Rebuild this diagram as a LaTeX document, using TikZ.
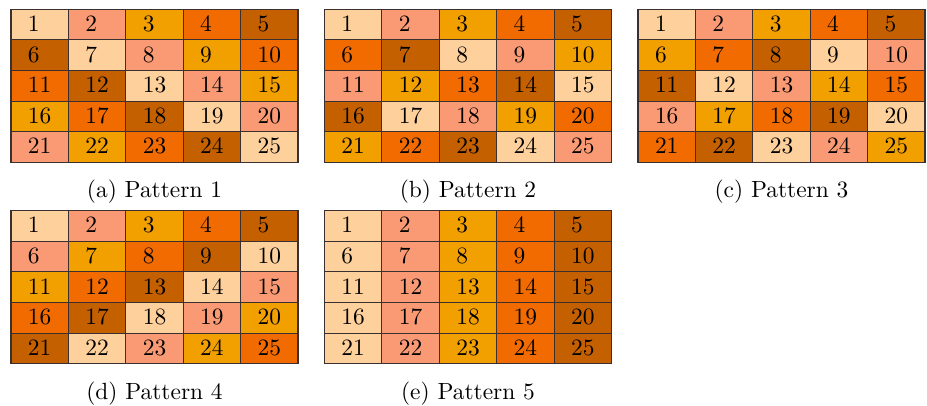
\documentclass[tikz,border=0pt]{standalone}
\definecolor{pal0}{HTML}{FDD09C}
\definecolor{pal1}{HTML}{FA9A74}
\definecolor{pal2}{HTML}{F2A000}
\definecolor{pal3}{HTML}{F26B00}
\definecolor{pal4}{HTML}{C46000}
\definecolor{gridline}{HTML}{3A3030}
\begin{document}
\begin{tikzpicture}[x=0.427pt,y=-0.427pt,
  cellbox/.style={draw=gridline, line width=0.45pt, rectangle, inner sep=0pt, outer sep=0pt,
    minimum width=24.51pt, minimum height=13.07pt},
  captext/.style={anchor=base, inner sep=0pt}]
\useasboundingbox (0,0) rectangle (927,405);
% five 5x5 patterns; pattern k shifts the colour of row r by k*r
\foreach \k/\gx/\gy/\tag in {1/11/9.3/a, 2/324.5/9.3/b, 3/638/9.3/c, 4/11/210.7/d, 5/324.5/210.7/e} {
  \foreach \r in {0,...,4} {
    \foreach \c in {0,...,4} {
      \pgfmathtruncatemacro\idx{mod(\c - \k*\r + 25, 5)}
      \pgfmathtruncatemacro\num{5*\r + \c + 1}
      \node[cellbox, fill=pal\idx] (p\k-\num) at (\gx + 57.4*\c + 28.7, \gy + 30.6*\r + 15.3)
        {\raisebox{0.8pt}{\makebox[1em][l]{\num}}};
    }
  }
  \node[captext] (cap\k) at (\gx + 143.5, \gy + 188.5) {(\tag) Pattern \k};
}
\end{tikzpicture}
\end{document}
